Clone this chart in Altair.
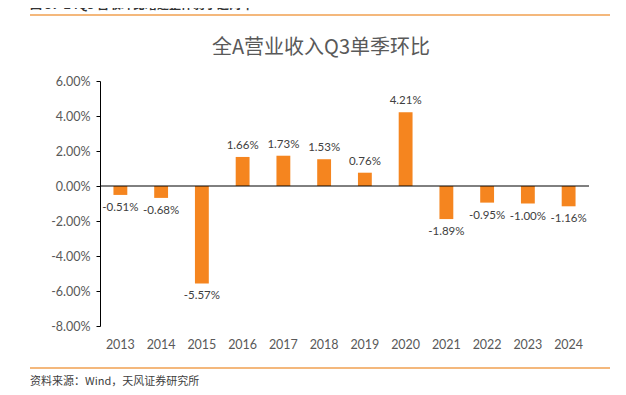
import altair as alt
import pandas as pd

years = ["2013", "2014", "2015", "2016", "2017", "2018", "2019", "2020", "2021", "2022", "2023", "2024"]
values = [-0.0051, -0.0068, -0.0557, 0.0166, 0.0173, 0.0153, 0.0076, 0.0421, -0.0189, -0.0095, -0.0100, -0.0116]
y_ticks = [-0.08, -0.06, -0.04, -0.02, 0.0, 0.02, 0.04, 0.06]

df = pd.DataFrame({"year": years, "value": values})

W, H = 489, 245
ORANGE = "#F5851F"
GRAY = "#595959"
NUM_FONT = "Lato"
CJK = "Noto Sans CJK SC"

x_enc = alt.X("year:N", sort=years,
              scale=alt.Scale(paddingInner=0.66, paddingOuter=0.33),
              axis=alt.Axis(title=None, domain=False, ticks=False, labelAngle=0,
                            labelPadding=12, labelFontSize=12.5, labelColor=GRAY,
                            labelFont=NUM_FONT))
y_enc = alt.Y("value:Q", scale=alt.Scale(domain=[-0.08, 0.06], nice=False),
              axis=alt.Axis(title=None, values=y_ticks, format=".2%", grid=False,
                            domainColor="#000000", tickColor="#000000", tickSize=4,
                            labelOverlap=False, labelFlush=False,
                            labelPadding=6, labelFontSize=12.5, labelColor=GRAY,
                            labelFont=NUM_FONT))

base = alt.Chart(df)
bars = base.mark_bar(color=ORANGE).encode(x=x_enc, y=y_enc, y2=alt.datum(0))
pos = base.transform_filter("datum.value >= 0").mark_text(
    baseline="bottom", dy=-6, fontSize=11.5, color="#404040", font=NUM_FONT
).encode(x=x_enc, y=y_enc, text=alt.Text("value:Q", format=".2%"))
neg = base.transform_filter("datum.value < 0").mark_text(
    baseline="top", dy=7, fontSize=11.5, color="#404040", font=NUM_FONT
).encode(x=x_enc, y=y_enc, text=alt.Text("value:Q", format=".2%"))

zero = alt.Chart(pd.DataFrame({"value": [0.0]})).mark_rule(color="#000000", strokeWidth=1).encode(
    y=y_enc, x=alt.value(0), x2=alt.value(W))

deco = pd.DataFrame({"k": [0]})
top_line = alt.Chart(deco).mark_rule(color="#F0A050", strokeWidth=1.5).encode(
    x=alt.value(-70), x2=alt.value(510), y=alt.value(-66))
bot_line = alt.Chart(deco).mark_rule(color="#F0A050", strokeWidth=1.5).encode(
    x=alt.value(-70), x2=alt.value(510), y=alt.value(287))
title = alt.Chart(deco).mark_text(text="全A营业收入Q3单季环比", font=CJK, fontSize=20,
                                  color=GRAY, align="center", baseline="middle").encode(
    x=alt.value(221), y=alt.value(-33))
header = alt.Chart(deco).mark_text(text="图 3：24Q3 营收环比增速整体弱于近两年", font=CJK,
                                   fontSize=12, fontWeight="bold", color="#333333",
                                   align="left", baseline="bottom").encode(
    x=alt.value(-70), y=alt.value(-69))
source = alt.Chart(deco).mark_text(text="资料来源：Wind，天风证券研究所", font=CJK,
                                   fontSize=11, color="#404040", align="left",
                                   baseline="middle").encode(
    x=alt.value(-70), y=alt.value(301))

chart = alt.layer(bars, zero, pos, neg, top_line, bot_line, title, header, source).properties(
    width=W, height=H,
    autosize=alt.AutoSizeParams(type="none"),
    padding={"left": 92, "top": 73, "right": 29, "bottom": 61},
).configure(
    background="#ffffff",
    locale={"number": {"decimal": ".", "thousands": ",", "grouping": [3],
                       "currency": ["$", ""], "minus": "-"}},
).configure_view(stroke=None)

chart.save("out.html", embed_options={"renderer": "svg", "actions": False})
